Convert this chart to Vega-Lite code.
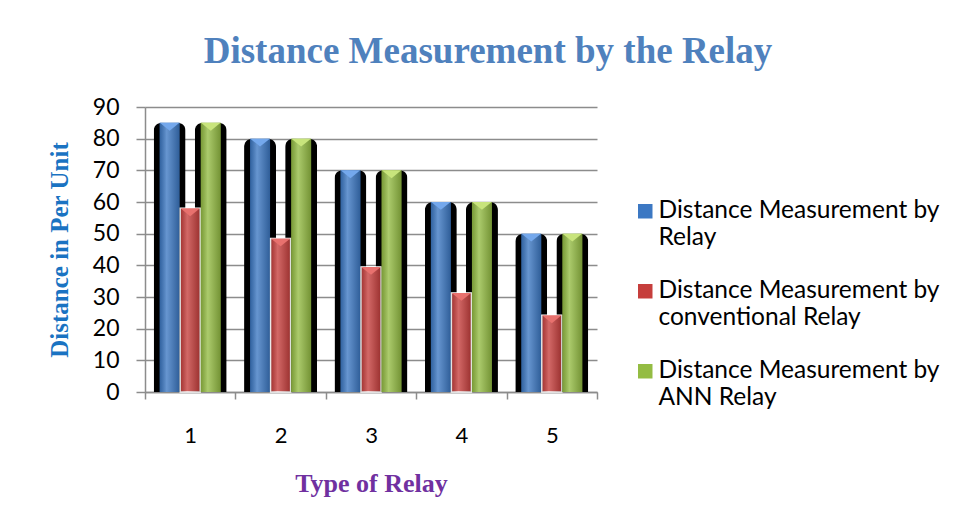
{
  "$schema": "https://vega.github.io/schema/vega-lite/v6.json",
  "autosize": {"type": "none"},
  "width": 452,
  "height": 285,
  "padding": {"left": 145, "top": 107, "right": 359, "bottom": 134},
  "background": "white",
  "title": {
    "text": "Distance Measurement by the Relay",
    "font": "Liberation Serif",
    "fontSize": 37,
    "fontWeight": "bold",
    "color": "#4F81BD",
    "anchor": "middle",
    "frame": "group",
    "dx": 117,
    "offset": 25
  },
  "data": {
    "values": [
      {"relay": "1", "series": "Distance Measurement by Relay", "value": 85},
      {"relay": "1", "series": "Distance Measurement by conventional Relay", "value": 58},
      {"relay": "1", "series": "Distance Measurement by ANN Relay", "value": 85},
      {"relay": "2", "series": "Distance Measurement by Relay", "value": 80},
      {"relay": "2", "series": "Distance Measurement by conventional Relay", "value": 48.5},
      {"relay": "2", "series": "Distance Measurement by ANN Relay", "value": 80},
      {"relay": "3", "series": "Distance Measurement by Relay", "value": 70},
      {"relay": "3", "series": "Distance Measurement by conventional Relay", "value": 39.5},
      {"relay": "3", "series": "Distance Measurement by ANN Relay", "value": 70},
      {"relay": "4", "series": "Distance Measurement by Relay", "value": 60},
      {"relay": "4", "series": "Distance Measurement by conventional Relay", "value": 31.3},
      {"relay": "4", "series": "Distance Measurement by ANN Relay", "value": 60},
      {"relay": "5", "series": "Distance Measurement by Relay", "value": 50},
      {"relay": "5", "series": "Distance Measurement by conventional Relay", "value": 24.2},
      {"relay": "5", "series": "Distance Measurement by ANN Relay", "value": 50}
    ]
  },
  "encoding": {
    "x": {
      "field": "relay",
      "type": "nominal",
      "scale": {"paddingInner": 0, "paddingOuter": 0},
      "axis": {
        "title": "Type of Relay",
        "titleFont": "Liberation Serif",
        "titleFontSize": 26,
        "titleFontWeight": "bold",
        "titleColor": "#7030A0",
        "titlePadding": 24,
        "labelAngle": 0,
        "labelFont": "Lato",
        "labelFontSize": 22,
        "labelColor": "#000000",
        "labelPadding": 26,
        "tickBand": "extent",
        "tickSize": 7,
        "tickColor": "#8c8c8c",
        "tickWidth": 1.5,
        "domainColor": "#8c8c8c",
        "domainWidth": 1.5,
        "grid": false
      }
    },
    "xOffset": {
      "field": "series",
      "type": "nominal",
      "sort": ["Distance Measurement by Relay", "Distance Measurement by conventional Relay", "Distance Measurement by ANN Relay"],
      "scale": {"domain": ["Distance Measurement by Relay", "Distance Measurement by conventional Relay", "Distance Measurement by ANN Relay"], "paddingInner": 0, "paddingOuter": 0.7}
    },
    "y": {
      "field": "value",
      "type": "quantitative",
      "scale": {"domain": [0, 90], "nice": false},
      "axis": {
        "title": "Distance in Per Unit",
        "titleFont": "Liberation Serif",
        "titleFontSize": 25,
        "titleFontWeight": "bold",
        "titleColor": "#1A73C2",
        "titlePadding": 20,
        "values": [0, 10, 20, 30, 40, 50, 60, 70, 80, 90],
        "labelFont": "Lato",
        "labelFontSize": 23,
        "labelColor": "#000000",
        "labelPadding": 17,
        "tickSize": 9,
        "tickColor": "#8c8c8c",
        "tickWidth": 1.5,
        "domainColor": "#8c8c8c",
        "domainWidth": 1.5,
        "grid": true,
        "gridColor": "#8c8c8c",
        "gridWidth": 1.5
      }
    }
  },
  "layer": [
    {
      "transform": [{"filter": "datum.series != 'Distance Measurement by conventional Relay'"}],
      "mark": {"type": "bar", "size": 32, "color": "#000000", "cornerRadiusTopLeft": 8, "cornerRadiusTopRight": 8}
    },
    {
      "mark": {"type": "bar", "size": 20},
      "encoding": {
        "color": {
          "field": "series",
          "type": "nominal",
          "scale": {
            "domain": ["Distance Measurement by Relay", "Distance Measurement by conventional Relay", "Distance Measurement by ANN Relay"],
            "range": ["#3C78C3", "#C63E3C", "#94BC43"]
          },
          "legend": {
            "orient": "none",
            "legendX": 488,
            "legendY": 92,
            "title": null,
            "symbolType": "square",
            "symbolSize": 210,
            "symbolStrokeWidth": 0,
            "labelFont": "Lato",
            "labelFontSize": 24.5,
            "labelColor": "#000000",
            "labelLimit": 400,
            "labelOffset": 1,
            "rowPadding": 28,
            "labelExpr": "split(replace(datum.label, 'by ', 'by|'), '|')",
            "encode": {"labels": {"update": {"lineHeight": {"value": 31}}}}
          }
        },
        "stroke": {
          "condition": {"test": "datum.series == 'Distance Measurement by conventional Relay'", "value": "#ffffff"},
          "value": null
        },
        "strokeWidth": {"value": 1.5}
      }
    },
    {
      "mark": {
        "type": "bar",
        "size": 20,
        "fill": {
          "gradient": "linear",
          "x1": 0, "x2": 1, "y1": 0, "y2": 0,
          "stops": [
            {"offset": 0, "color": "rgba(0,0,0,0.18)"},
            {"offset": 0.35, "color": "rgba(255,255,255,0.22)"},
            {"offset": 1, "color": "rgba(0,0,0,0.22)"}
          ]
        }
      }
    },
    {
      "mark": {"type": "point", "shape": "M -1 0 L 1 0 L 0 0.8 Z", "size": 380, "filled": true, "opacity": 1, "strokeWidth": 0},
      "encoding": {
        "fill": {
          "field": "series",
          "type": "nominal",
          "scale": {
            "domain": ["Distance Measurement by Relay", "Distance Measurement by conventional Relay", "Distance Measurement by ANN Relay"],
            "range": ["#74A8EC", "#E8716E", "#C8E47C"]
          },
          "legend": null
        }
      }
    }
  ],
  "config": {
    "view": {"stroke": null}
  }
}
